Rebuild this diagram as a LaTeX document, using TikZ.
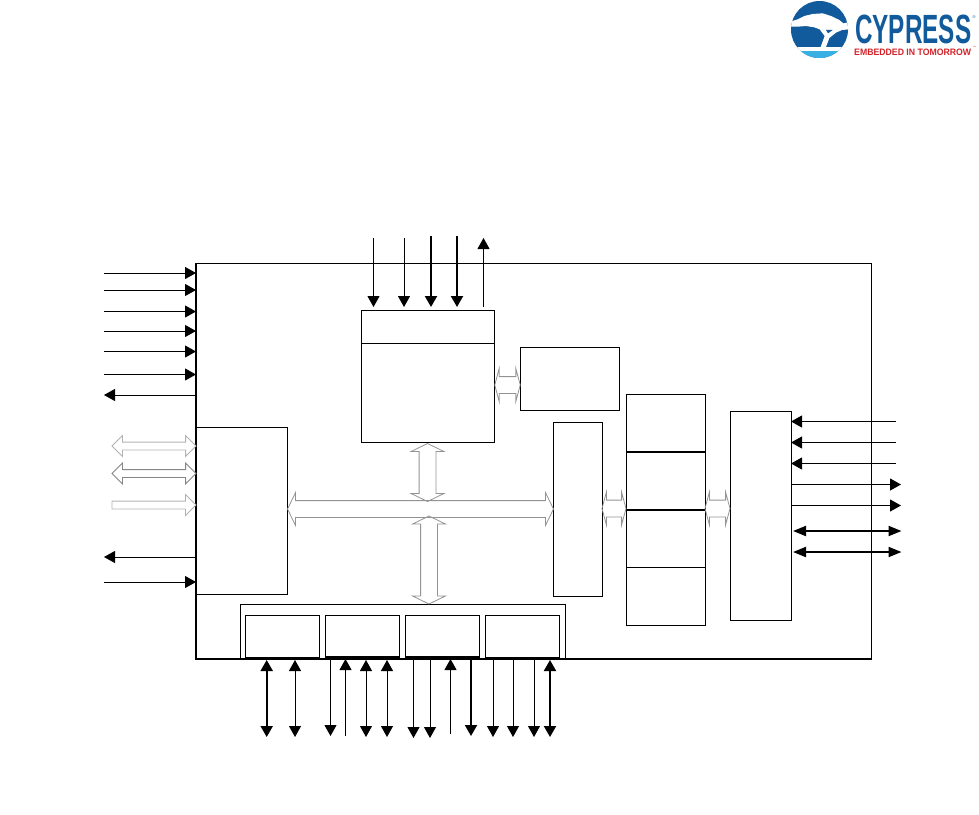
\documentclass[tikz,border=0pt]{standalone}
\usepackage{fontspec}
\setmainfont{Liberation Sans}
\usetikzlibrary{arrows.meta,shapes.arrows}
\definecolor{cyblue}{HTML}{115A9C}
\definecolor{cysky}{HTML}{38B0E4}
\definecolor{cyred}{HTML}{D2232A}
\tikzset{
  block/.style={draw,line width=1pt,inner sep=0pt,outer sep=0pt},
  sig/.style={line width=1pt,-{Triangle[length=11pt,width=12pt]}},
  sigb/.style={line width=2pt,-{Triangle[length=11pt,width=12pt]}},
  both/.style={line width=1pt,{Triangle[length=11pt,width=12pt]}-{Triangle[length=11pt,width=12pt]}},
  bothb/.style={line width=2pt,{Triangle[length=11pt,width=12pt]}-{Triangle[length=11pt,width=12pt]}},
  bothr/.style={line width=2pt,{Triangle[length=13pt,width=10pt]}-{Triangle[length=13pt,width=10pt]}},
  bus/.style={shape=double arrow,draw=gray!85,line width=.8pt,inner sep=0pt,outer sep=0pt,
    text height=16pt,text depth=0pt,double arrow head extend=8pt,double arrow tip angle=128},
  shortbus/.style={bus,double arrow tip angle=150},
  smallbus/.style={shape=double arrow,draw=gray!80,line width=.8pt,inner sep=0pt,outer sep=0pt,
    text height=7pt,text depth=0pt,double arrow head extend=6.5pt,double arrow tip angle=90},
  smallin/.style={shape=single arrow,draw=gray!60,line width=.8pt,inner sep=0pt,outer sep=0pt,
    text height=7pt,text depth=0pt,single arrow head extend=6.5pt,single arrow tip angle=90}
}
\begin{document}
\begin{tikzpicture}[x=1pt,y=-1pt]
\useasboundingbox (0,0) rectangle (979,814);
\node[block,minimum width=675pt,minimum height=396pt] (chip) at (533.5,461) {};
\draw[line width=2pt] (chip.north west) -- (chip.south west) -- (chip.south east);
\node[block,minimum width=133pt,minimum height=33pt] (ctrl) at (427.5,326.5) {};
\node[block,minimum width=133pt,minimum height=99pt] (core) at (427.5,392.5) {};
\node[block,minimum width=99pt,minimum height=63pt] (cache) at (569.5,378.5) {};
\node[block,minimum width=91pt,minimum height=167pt] (host) at (241.5,510.5) {};
\node[block,minimum width=49pt,minimum height=174pt] (arbiter) at (577.5,509) {};
\node[block,minimum width=79pt,minimum height=58pt] (ram1) at (665.5,423) {};
\node[block,minimum width=79pt,minimum height=58pt] (ram2) at (665.5,481) {};
\node[block,minimum width=79pt,minimum height=57pt] (ram3) at (665.5,538.5) {};
\node[block,minimum width=79pt,minimum height=58pt] (ram4) at (665.5,596) {};
\draw[line width=2pt] (ram1.south west) -- (ram1.south east);
\draw[line width=2pt] (ram2.south west) -- (ram2.south east);
\node[block,minimum width=61pt,minimum height=209pt] (phy) at (760.5,515.5) {};
\node[block,minimum width=325pt,minimum height=54pt] (periph) at (402.5,631) {};
\node[block,minimum width=74pt,minimum height=42pt] (io1) at (282,636) {};
\node[block,minimum width=74pt,minimum height=42pt] (io2) at (362,636) {};
\node[block,minimum width=74pt,minimum height=42pt] (io3) at (442,636) {};
\node[block,minimum width=74pt,minimum height=42pt] (io4) at (522,636) {};
\draw[line width=2pt] (io2.south west) -- (io2.south east);
\draw[line width=2pt] (io3.south west) -- (io3.south east);
\node[bus,minimum height=266pt] (busmain) at (420.5,509) {};
\node[bus,minimum height=58pt,rotate=90] (busup) at (427.5,472.5) {};
\node[bus,minimum height=88pt,rotate=90] (busdown) at (429,560) {};
\node[shortbus,minimum height=25.5pt] (buscache) at (507.5,385) {};
\node[shortbus,minimum height=24pt] (busram) at (614,508.5) {};
\node[shortbus,minimum height=25pt] (busphy) at (717.5,508.5) {};
\node[smallbus,draw=gray!60,minimum height=84pt] (busa) at (154,446) {};
\node[smallbus,draw=gray!95,minimum height=84pt] (busb) at (154,473.5) {};
\node[smallin,minimum height=84pt] (busc) at (152,505) {};
\foreach \y [count=\i] in {273,290,311.5,331,351.5,374.5,582} {
  \coordinate (w\i) at (104,\y);
  \draw[sig] (w\i) -- (w\i -| chip.west);
}
\foreach \y [count=\i] in {395,557} {
  \coordinate (o\i) at (104,\y);
  \draw[sig] (o\i -| chip.west) -- (o\i);
}
\foreach \x/\y/\s [count=\i] in {373.5/238/sig,404/238/sig,431/236/sigb,457/236/sigb} {
  \coordinate (t\i) at (\x,\y);
  \draw[\s] (t\i) -- ([yshift=3pt]t\i |- ctrl.north);
}
\coordinate (tout) at (483.5,238);
\draw[sig] ([yshift=3pt]tout |- ctrl.north) -- (tout);
\foreach \x/\y/\s [count=\i] in {266.7/737/bothb,295/737/both,366/737/both,387/737/both,550/737/bothb} {
  \coordinate (b\i) at (\x,\y);
  \draw[\s] ([yshift=-1pt]b\i |- chip.south) -- (b\i);
}
\foreach \x/\y/\s [count=\i] in {330.5/736/sig,413.5/738/sig,430/738/sig,471/736/sigb,493/737/sig,513/737/sig,534/737/sig} {
  \coordinate (d\i) at (\x,\y);
  \draw[\s] (d\i |- chip.south) -- (d\i);
}
\foreach \x/\y [count=\i] in {345.5/736,450.5/734} {
  \coordinate (u\i) at (\x,\y);
  \draw[sig] (u\i) -- (u\i |- chip.south);
}
\foreach \y [count=\i] in {421.5,442.5,463.5} {
  \coordinate (r\i) at (896,\y);
  \draw[sig] (r\i) -- (r\i -| phy.east);
}
\foreach \y [count=\i] in {484.5,505.5} {
  \coordinate (s\i) at (901,\y);
  \draw[sig] (s\i -| phy.east) -- (s\i);
}
\foreach \y [count=\i] in {531,552} {
  \coordinate (q\i) at (901.5,\y);
  \draw[bothr] ([xshift=2pt]q\i -| phy.east) -- (q\i);
}
\node[circle,fill=cyblue,inner sep=0pt,minimum size=57pt] (logo) at (819.5,29.5) {};
\begin{scope}
\clip (logo.center) circle (28.5);
\fill[white] (790,47) rectangle (849,50.5);
\fill[cysky] (790,50.5) rectangle (849,59);
\begin{scope}[shift={(786,0)},x=.3333pt,y=-.3333pt]
\fill[white] (10,66) -- (35,58) -- (55,48) -- (80,42) -- (110,40) -- (135,48) -- (160,60)
  -- (172,70) -- (192,66) -- (190,88) -- (168,90) -- (150,98) -- (130,114) -- (120,141)
  -- (104,141) -- (116,108) -- (101,88) -- (85,82) -- (60,78) -- (35,80) -- (10,80) -- cycle;
\fill[cyblue] (120,90) -- (140,90) -- (126,100) -- cycle;
\end{scope}
\end{scope}
\node[inner sep=0pt,text=cyblue,anchor=west] (brand) at (855,29) {\resizebox{116pt}{28.5pt}{\bfseries CYPRESS}};
\node[inner sep=0pt,text=cyblue,font=\fontsize{4}{4}\selectfont] (regmark) at (974,17) {®};
\node[inner sep=0pt,text=cyred,anchor=west] (claim) at (854,52) {\resizebox{117pt}{6.5pt}{\bfseries EMBEDDED IN TOMORROW}};
\node[inner sep=0pt,text=cyred,font=\fontsize{3}{3}\selectfont] (tmark) at (974.5,47.5) {™};
\end{tikzpicture}
\end{document}
